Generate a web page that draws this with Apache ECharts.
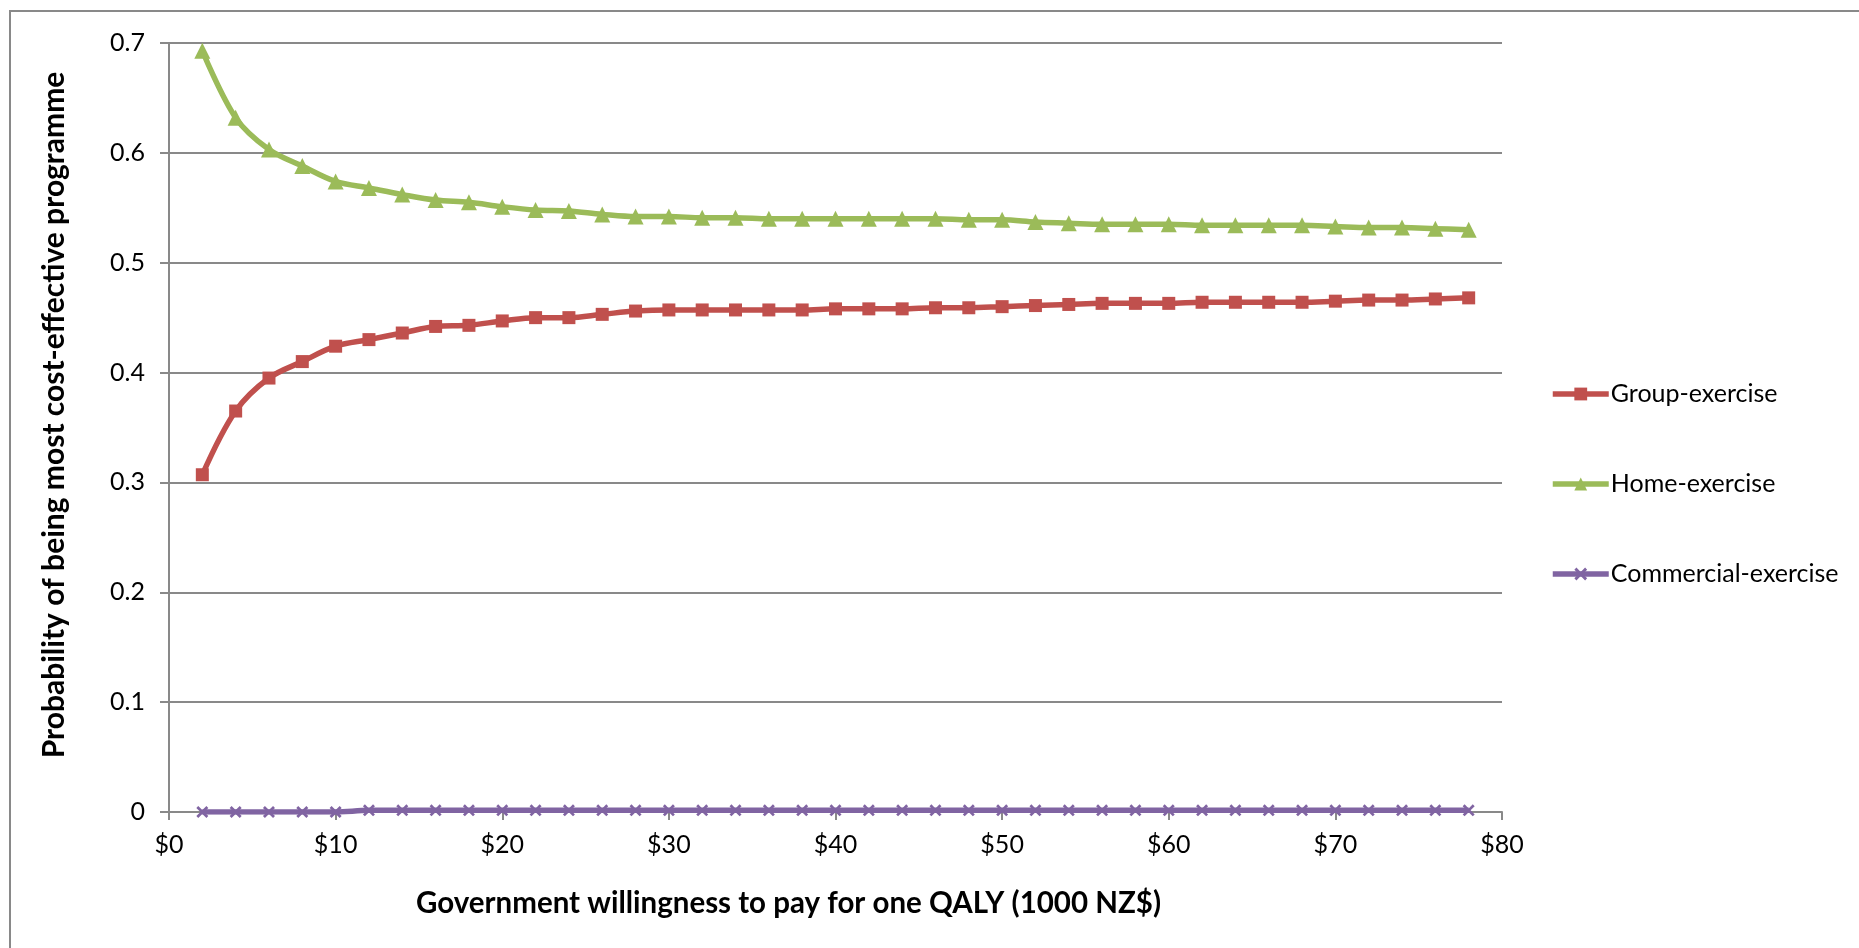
<!DOCTYPE html>
<html>
<head>
<meta charset="utf-8">
<title>Cost-effectiveness acceptability curves</title>
<script src="https://cdn.jsdelivr.net/npm/echarts@6/dist/echarts.min.js"></script>
<style>
  html, body { margin: 0; padding: 0; background: #ffffff; }
  #chart { width: 1859px; height: 948px; }
</style>
</head>
<body>
<div id="chart"></div>
<script>
// Willingness to pay per QALY, in thousands of NZ$
const wtp = [2, 4, 6, 8, 10, 12, 14, 16, 18, 20, 22, 24, 26, 28, 30, 32, 34, 36, 38, 40,
             42, 44, 46, 48, 50, 52, 54, 56, 58, 60, 62, 64, 66, 68, 70, 72, 74, 76, 78];

// Probability that each programme is the most cost-effective
const groupExercise = [0.307, 0.365, 0.395, 0.410, 0.424, 0.430, 0.436, 0.442, 0.443, 0.447,
                       0.450, 0.450, 0.453, 0.456, 0.457, 0.457, 0.457, 0.457, 0.457, 0.458,
                       0.458, 0.458, 0.459, 0.459, 0.460, 0.461, 0.462, 0.463, 0.463, 0.463,
                       0.464, 0.464, 0.464, 0.464, 0.465, 0.466, 0.466, 0.467, 0.468];
const homeExercise = [0.693, 0.632, 0.603, 0.588, 0.574, 0.568, 0.562, 0.557, 0.555, 0.551,
                      0.548, 0.547, 0.544, 0.542, 0.542, 0.541, 0.541, 0.540, 0.540, 0.540,
                      0.540, 0.540, 0.540, 0.539, 0.539, 0.537, 0.536, 0.535, 0.535, 0.535,
                      0.534, 0.534, 0.534, 0.534, 0.533, 0.532, 0.532, 0.531, 0.530];
const commercialExercise = [0.000, 0.000, 0.000, 0.000, 0.000, 0.0015, 0.0015, 0.0015, 0.0015, 0.0015,
                            0.0015, 0.0015, 0.0015, 0.0015, 0.0015, 0.0015, 0.0015, 0.0015, 0.0015, 0.0015,
                            0.0015, 0.0015, 0.0015, 0.0015, 0.0015, 0.0015, 0.0015, 0.0015, 0.0015, 0.0015,
                            0.0015, 0.0015, 0.0015, 0.0015, 0.0015, 0.0015, 0.0015, 0.0015, 0.0015];

const seriesNames = ['Group-exercise', 'Home-exercise', 'Commercial-exercise'];
const xTitle = 'Government willingness to pay for one QALY (1000 NZ$)';
const yTitle = 'Probability of being most cost-effective programme';

const FONT = 'Lato';
const GRID_GRAY = '#898989';
const LINE_W = 5.5;
const CROSS = 'path://M0,1.6 L1.6,0 L5,3.4 L8.4,0 L10,1.6 L6.6,5 L10,8.4 L8.4,10 L5,6.6 L1.6,10 L0,8.4 L3.4,5 Z';

const pairs = (ys) => wtp.map((x, i) => [x, ys[i]]);

const lineSeries = (name, ys, color, symbol, size) => ({
  name: name,
  type: 'line',
  data: pairs(ys),
  smooth: 0.35,
  symbol: symbol,
  symbolSize: size,
  showAllSymbol: true,
  lineStyle: { color: color, width: LINE_W },
  itemStyle: { color: color },
  emphasis: { disabled: true }
});

const chart = echarts.init(document.getElementById('chart'), null, { renderer: 'canvas' });

chart.setOption({
  backgroundColor: '#ffffff',
  animation: false,
  textStyle: { fontFamily: FONT },
  graphic: [{
    type: 'rect',
    shape: { x: 10, y: 11, width: 1900, height: 1000 },
    style: { fill: 'none', stroke: GRID_GRAY, lineWidth: 2 },
    silent: true,
    z: -10
  }],
  grid: { left: 169, right: 357, top: 43, bottom: 136, containLabel: false },
  xAxis: {
    type: 'value',
    min: 0,
    max: 80,
    interval: 10,
    name: xTitle,
    nameLocation: 'middle',
    nameGap: 76,
    nameTextStyle: { fontFamily: FONT, fontSize: 29.5, fontWeight: 'bold', color: '#000000', padding: [0, 94, 0, 0] },
    axisLine: { show: true, lineStyle: { color: GRID_GRAY, width: 2 } },
    axisTick: { show: true, length: 8, lineStyle: { color: GRID_GRAY, width: 2 } },
    axisLabel: { fontFamily: FONT, fontSize: 25, color: '#000000', margin: 20, formatter: (v) => '$' + v },
    splitLine: { show: false }
  },
  yAxis: {
    type: 'value',
    min: 0,
    max: 0.7,
    interval: 0.1,
    name: yTitle,
    nameLocation: 'middle',
    nameGap: 100,
    nameRotate: 90,
    nameTextStyle: { fontFamily: FONT, fontSize: 30, fontWeight: 'bold', color: '#000000', padding: [0, 0, 0, 25] },
    axisLine: { show: true, lineStyle: { color: GRID_GRAY, width: 2 } },
    axisTick: { show: true, length: 9, lineStyle: { color: GRID_GRAY, width: 2 } },
    axisLabel: { fontFamily: FONT, fontSize: 25, color: '#000000', margin: 24, formatter: (v) => String(+v.toFixed(1)) },
    splitLine: { show: true, lineStyle: { color: GRID_GRAY, width: 2 } }
  },
  legend: {
    orient: 'vertical',
    left: 1545,
    top: 375,
    itemWidth: 56,
    itemHeight: 16,
    itemGap: 62,
    lineStyle: { width: LINE_W },
    textStyle: { fontFamily: FONT, fontSize: 25, color: '#000000', lineHeight: 28, padding: [0, 0, 0, -3] },
    data: seriesNames
  },
  series: [
    lineSeries(seriesNames[0], groupExercise, '#C0504D', 'rect', 13),
    lineSeries(seriesNames[1], homeExercise, '#9BBB59', 'triangle', 16),
    lineSeries(seriesNames[2], commercialExercise, '#8064A2', CROSS, 12)
  ]
});
</script>
</body>
</html>
